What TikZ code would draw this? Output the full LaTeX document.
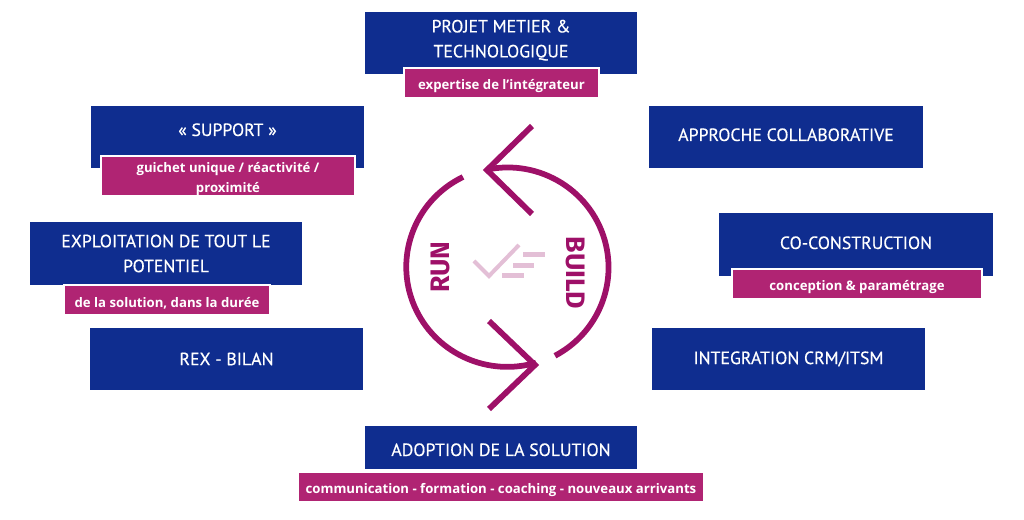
\documentclass[tikz,border=0pt]{standalone}
\usepackage{fontspec}
\setmainfont{Open Sans}
\newfontfamily\titlefont[FakeBold=0.4]{PT Sans}
\newfontfamily\cyclefont{Fira Sans}
\definecolor{navyblue}{HTML}{0F2D8F}
\definecolor{pinkbox}{HTML}{B02473}
\definecolor{cyclecol}{HTML}{9E1068}
\definecolor{checkcol}{HTML}{E3BFD6}
\newcommand{\lift}[2]{\raisebox{#1}[0pt][0pt]{#2}}
\tikzset{
  titlebox/.style={fill=navyblue, text=white, font=\titlefont\fontsize{10.1}{14.2}\selectfont,
    minimum width=5.44cm, minimum height=1.24cm, align=center, inner sep=0pt, outer sep=0pt},
  subbox/.style={fill=pinkbox, draw=white, line width=0.6pt, text=white,
    font=\bfseries\fontsize{7.5}{11.4}\selectfont,
    execute at begin node={\rule{0pt}{9.5pt}},
    minimum height=0.6cm, align=center, inner sep=0pt, outer sep=0pt},
  cycle/.style={draw=cyclecol, line width=0.115cm},
  cyclelab/.style={text=cyclecol, font=\cyclefont\bfseries\fontsize{15.2}{15}\selectfont},
  checkmark/.style={draw=checkcol, line width=0.08cm},
}
\begin{document}
\begin{tikzpicture}

\useasboundingbox (0,0) rectangle (20.48,10.40);

%% Top
\node[titlebox] (projet) at (10.02, 9.54) {PROJET METIER \&\\TECHNOLOGIQUE\rule[-5pt]{0pt}{0pt}};
\node[subbox, minimum width=3.90cm] (projetsub) at (10.03, 8.74) {expertise de l’intégrateur};

%% Left column
\node[titlebox, minimum width=5.46cm] (support) at (4.55, 7.66) {\lift{0.02cm}{« SUPPORT »}};
\node[subbox, minimum width=5.08cm, minimum height=0.80cm, execute at begin node={}] (supportsub) at (4.56, 6.88)
  {\lift{-0.17cm}{\parbox[b]{5cm}{\centering guichet unique / réactivité /\\proximité}}};
\node[titlebox, minimum height=1.26cm] (exploit) at (3.32, 5.33) {EXPLOITATION DE TOUT LE\\POTENTIEL};
\node[subbox, minimum width=4.12cm] (exploitsub) at (3.34, 4.40) {de la solution, dans la durée};
\node[titlebox, minimum width=5.46cm] (rex) at (4.53, 3.22) {REX - BILAN};

%% Right column
\node[titlebox, minimum width=5.48cm] (approche) at (15.72, 7.66) {\lift{-0.08cm}{APPROCHE COLLABORATIVE}};
\node[titlebox, minimum width=5.48cm, minimum height=1.26cm] (cocons) at (17.12, 5.51) {\lift{-0.09cm}{CO-CONSTRUCTION}};
\node[subbox, minimum width=5.00cm] (cocossub) at (17.14, 4.72) {conception \& paramétrage};
\node[titlebox, minimum width=5.46cm] (integ) at (15.77, 3.22) {INTEGRATION CRM/ITSM};

%% Bottom
\node[titlebox, minimum height=0.86cm] (adoption) at (10.02, 1.45) {\lift{-0.17cm}{ADOPTION DE LA SOLUTION}};
\node[subbox, minimum width=8.12cm] (adoptionsub) at (10.02, 0.66)
  {communication - formation - coaching - nouveaux arrivants};

%% Cycle: centre (10.14, 5.06), radius 2.02
\draw[cycle] (9.80, 7.02) arc (100:-62:2.02 and 2.0);
\draw[cycle] (9.26, 6.86) arc (116:286.5:2.02 and 2.0);
\draw[cycle] (10.64, 7.88) -- (9.74, 7.00) -- (10.64, 6.12);
\draw[cycle] (9.78, 3.98) -- (10.70, 3.10) -- (9.78, 2.22);

\node[cyclelab, rotate=90] (run) at (8.80, 5.06) {RUN};
\node[cyclelab, rotate=-90] (build) at (11.51, 4.94) {BUILD};

%% Check mark and bars
\draw[checkmark] (9.48, 5.18) -- (9.78, 4.88) -- (10.38, 5.50);
\fill[checkcol] (10.46, 5.26) rectangle (10.90, 5.36);
\fill[checkcol] (10.26, 5.04) rectangle (10.68, 5.14);
\fill[checkcol] (10.04, 4.84) rectangle (10.48, 4.94);

\end{tikzpicture}
\end{document}
